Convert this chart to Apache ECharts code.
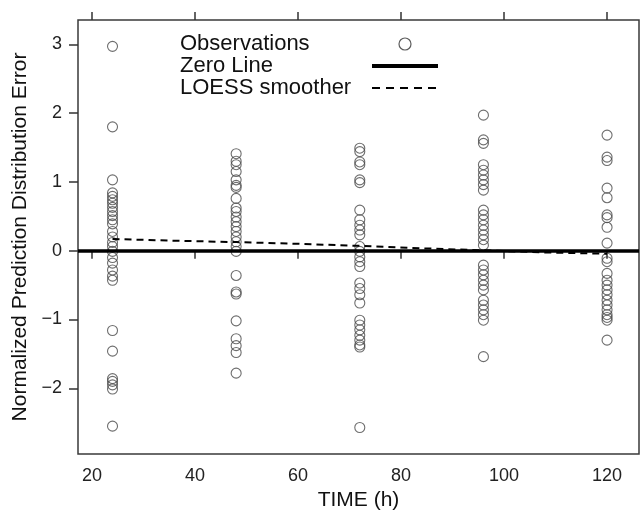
<!DOCTYPE html>
<html>
<head>
<meta charset="utf-8">
<script src="https://cdn.jsdelivr.net/npm/echarts@6/dist/echarts.min.js"></script>
<style>
html,body{margin:0;padding:0;background:#fff;}
#chart{width:644px;height:516px;}
</style>
</head>
<body>
<div id="chart"></div>
<script>
// ---- data ----
var times = [24, 48, 72, 96, 120];
var npde24 = [2.97, 1.80, 1.03, 0.84, 0.79, 0.74, 0.69, 0.63, 0.57, 0.51, 0.45, 0.39, 0.28, 0.20, 0.12, 0.06, -0.01, -0.10, -0.18, -0.28, -0.37, -0.43, -1.16, -1.46, -1.86, -1.90, -1.95, -2.01, -2.55];
var npde48 = [1.41, 1.30, 1.25, 1.15, 1.03, 0.95, 0.92, 0.76, 0.62, 0.57, 0.49, 0.42, 0.35, 0.28, 0.20, 0.13, 0.06, -0.01, -0.36, -0.60, -0.63, -1.02, -1.28, -1.38, -1.48, -1.78];
var npde72 = [1.49, 1.44, 1.29, 1.25, 1.03, 0.99, 0.59, 0.45, 0.37, 0.30, 0.23, 0.06, -0.01, -0.09, -0.16, -0.23, -0.47, -0.55, -0.64, -0.76, -1.01, -1.08, -1.15, -1.23, -1.30, -1.37, -1.40, -2.57];
var npde96 = [1.97, 1.61, 1.56, 1.25, 1.17, 1.10, 1.03, 0.96, 0.88, 0.59, 0.52, 0.45, 0.37, 0.30, 0.23, 0.16, 0.08, -0.21, -0.28, -0.35, -0.43, -0.50, -0.57, -0.72, -0.79, -0.86, -0.93, -1.01, -1.54];
var npde120 = [1.68, 1.36, 1.31, 0.91, 0.77, 0.52, 0.48, 0.34, 0.11, -0.11, -0.16, -0.33, -0.43, -0.50, -0.57, -0.64, -0.72, -0.79, -0.86, -0.93, -0.97, -1.01, -1.30];
var loessTime = [24, 36, 48, 60, 72, 84, 96, 108, 120];
var loessValue = [0.17, 0.145, 0.125, 0.10, 0.07, 0.035, 0.005, -0.025, -0.045];
var xTicks = [20, 40, 60, 80, 100, 120];
var yTicks = [-2, -1, 0, 1, 2, 3];
var xRange = [17.3, 126.2];
var yRange = [-2.955, 3.353];
var zeroValue = 0;
var seriesNames = ['Observations', 'Zero Line', 'LOESS smoother'];
var xTitle = 'TIME (h)';
var yTitle = 'Normalized Prediction Distribution Error';

// ---- build ----
var groups = [npde24, npde48, npde72, npde96, npde120];
var obs = [];
groups.forEach(function (vals, i) {
  vals.forEach(function (v) { obs.push([times[i], v]); });
});
var loess = loessTime.map(function (t, i) { return [t, loessValue[i]]; });

var FONT = '"Liberation Sans", Arial, sans-serif';
var hiddenSymbol = {color: 'rgba(0,0,0,0)', borderColor: 'rgba(0,0,0,0)', borderWidth: 0, opacity: 0};
var chart = echarts.init(document.getElementById('chart'), null, {renderer: 'canvas'});
chart.setOption({
  backgroundColor: '#fff',
  animation: false,
  grid: {left: 78, right: 5, top: 20, bottom: 62, show: true, borderColor: '#3a3a3a', borderWidth: 1.5, containLabel: false},
  legend: {
    orient: 'vertical', left: 180, top: 33, align: 'right', itemGap: 0, padding: 0,
    itemWidth: 66, itemHeight: 12,
    data: [
      {name: seriesNames[0], icon: 'circle', itemStyle: {color: 'rgba(0,0,0,0)', borderColor: '#333', borderWidth: 1.2}},
      {name: seriesNames[1], itemStyle: hiddenSymbol, lineStyle: {color: '#000', width: 4, type: 'solid', opacity: 1}},
      {name: seriesNames[2], itemStyle: hiddenSymbol, lineStyle: {color: '#000', width: 2.2, type: [8, 6], opacity: 1}}
    ],
    formatter: function (n) { return '{a|' + n + '}'; },
    textStyle: {
      fontFamily: FONT, fontSize: 22, color: '#111',
      rich: {a: {width: 187, align: 'left', fontFamily: FONT, fontSize: 22, lineHeight: 21, color: '#111'}}
    }
  },
  xAxis: [{
    type: 'value', min: xRange[0], max: xRange[1], position: 'bottom',
    name: xTitle, nameLocation: 'middle', nameGap: 33,
    nameTextStyle: {fontFamily: FONT, fontSize: 21, color: '#111'},
    axisLine: {show: false}, splitLine: {show: false},
    axisTick: {show: true, inside: false, length: 8, lineStyle: {color: '#333', width: 1.5}, customValues: xTicks},
    axisLabel: {show: true, margin: 13, fontFamily: FONT, fontSize: 18, color: '#222', customValues: xTicks}
  }, {
    type: 'value', min: xRange[0], max: xRange[1], position: 'top',
    axisLine: {show: false}, splitLine: {show: false},
    axisTick: {show: true, inside: false, length: 8, lineStyle: {color: '#333', width: 1.5}, customValues: xTicks},
    axisLabel: {show: false}
  }],
  yAxis: [{
    type: 'value', min: yRange[0], max: yRange[1],
    name: yTitle, nameLocation: 'middle', nameGap: 47,
    nameTextStyle: {fontFamily: FONT, fontSize: 21, color: '#111'},
    axisLine: {show: false}, splitLine: {show: false},
    axisTick: {show: true, inside: false, length: 9, lineStyle: {color: '#333', width: 1.5}, customValues: yTicks},
    axisLabel: {show: true, margin: 16, fontFamily: FONT, fontSize: 18, color: '#222', customValues: yTicks,
      formatter: function (v) { return String(v).replace('-', '\u2212'); }}
  }],
  series: [{
    name: seriesNames[0], type: 'scatter', data: obs, symbol: 'circle', symbolSize: 10,
    itemStyle: {color: 'rgba(0,0,0,0)', borderColor: '#4a4a4a', borderWidth: 1.1}, z: 2
  }, {
    name: seriesNames[1], type: 'line', data: [], symbol: 'none',
    lineStyle: {color: '#000', width: 3.5}, itemStyle: {color: '#000'},
    markLine: {silent: true, symbol: 'none', label: {show: false},
      lineStyle: {color: '#000', width: 3.5, type: 'solid'}, data: [{yAxis: zeroValue}]}, z: 4
  }, {
    name: seriesNames[2], type: 'line', data: loess, symbol: 'none', smooth: false,
    lineStyle: {color: '#000', width: 2, type: [7, 5]}, itemStyle: {color: '#000'}, z: 3
  }]
});
</script>
</body>
</html>
